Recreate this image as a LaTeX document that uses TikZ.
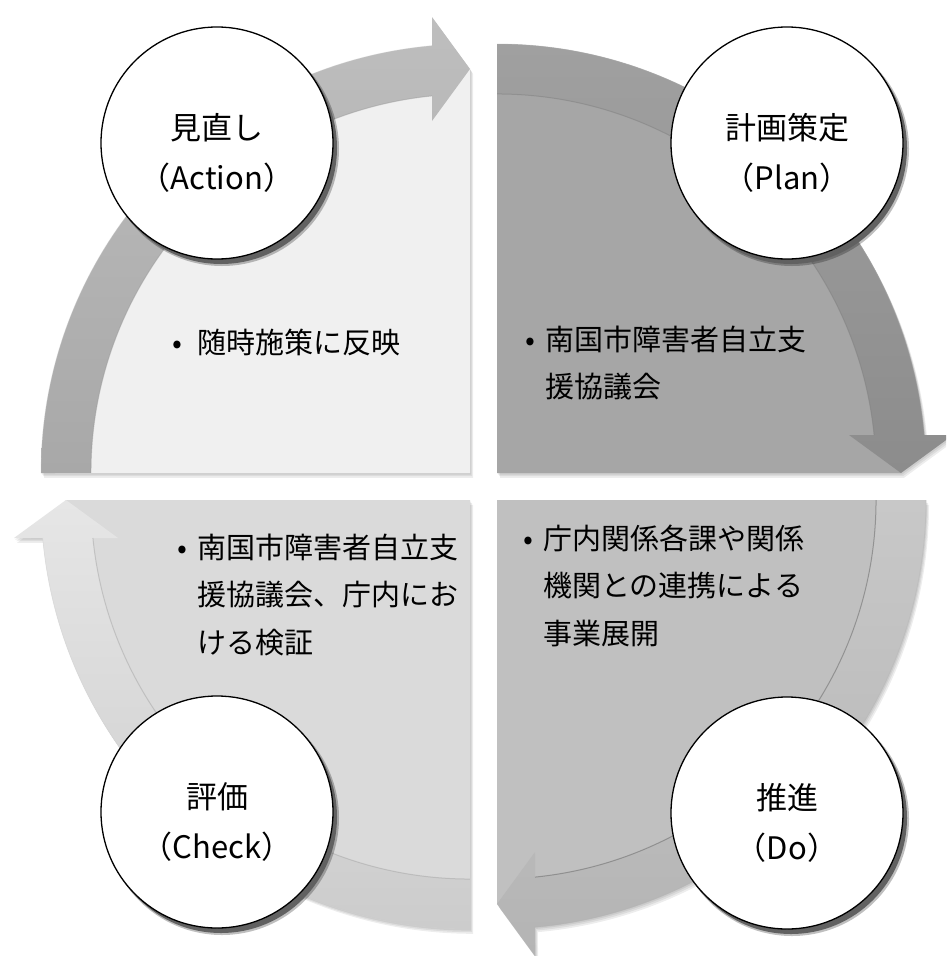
\documentclass[tikz,border=0pt]{standalone}
\usepackage{fontspec}
\setmainfont{Noto Sans CJK JP}
\usetikzlibrary{calc}
\definecolor{pTL}{HTML}{F0F0F0}
\definecolor{pTR}{HTML}{A6A6A6}
\definecolor{pBR}{HTML}{C0C0C0}
\definecolor{pBL}{HTML}{DADADA}
\definecolor{tTL}{HTML}{A8A8A8}
\definecolor{hTL}{HTML}{BEBEBE}
\definecolor{tTR}{HTML}{A0A0A0}
\definecolor{hTR}{HTML}{8C8C8C}
\definecolor{tBR}{HTML}{C8C8C8}
\definecolor{hBR}{HTML}{B4B4B4}
\definecolor{tBL}{HTML}{CCCCCC}
\definecolor{hBL}{HTML}{E6E6E6}
\newcommand\bul[1]{\llap{\makebox[0pt]{•}\hspace*{#1}}}
\tikzset{
  panelshape/.style={insert path={(0,0) -- (-429,0) arc[start angle=180,end angle=95.08,radius=429] -- (0,404) -- cycle}},
  bandshape/.style={insert path={(-429,0) arc[start angle=180,end angle=95.08,radius=429] -- (-38,456) -- (0,404) -- (-38,352) -- (-38,377.1) arc[start angle=95.75,end angle=180,radius=379] -- cycle}},
  pdca/.style={circle,draw=black,line width=1.3pt,fill=white,minimum size=232pt,inner sep=0pt},
  ctext/.style={font=\fontsize{31}{50}\selectfont,align=center,inner sep=0pt},
  body/.style={font=\fontsize{29}{47.5}\selectfont,align=left,inner sep=0pt,anchor=base west},
  cshadow/.style={fill=black!62},
}
% #1 cx, #2 cy (pixels down), #3 rotation, #4 panel colour,
% #5 top colour, #6 bottom colour (global), #7 inner edge, #8 outer edge
\newcommand\quadrant[8]{%
  \foreach \s in {1,2,3}{%
    \begin{scope}[shift={(#1+\s,-#2-1.6*\s)},rotate=#3]
      \fill[black,opacity=.07,panelshape,bandshape];
    \end{scope}}
  \begin{scope}[shift={(#1,-#2)},rotate=#3]
    \fill[#4,panelshape];
    \shade[top color=#5,bottom color=#6,bandshape];
    \draw[#7,line width=1pt] (-38,377.1) arc[start angle=95.75,end angle=180,radius=379];
    \draw[#8,line width=0.8pt] (-429,0) arc[start angle=180,end angle=95.08,radius=429];
  \end{scope}}
\begin{document}
\begin{tikzpicture}[x=1pt,y=1pt]
\useasboundingbox (0,0) rectangle (946,-956);
\clip (0,0) rectangle (946,-956);
\fill[white] (0,0) rectangle (946,-956);
% quadrants
\quadrant{470}{473}{0}{pTL}{hTL}{tTL}{black!40,opacity=.45}{black!20,opacity=.3}
\quadrant{497}{473}{-90}{pTR}{tTR}{hTR}{black!50,opacity=.5}{black!30,opacity=.3}
\quadrant{497}{500}{-180}{pBR}{tBR}{hBR}{black!55,opacity=.6}{black!30,opacity=.3}
\quadrant{470}{500}{90}{pBL}{hBL}{tBL}{black!35,opacity=.5}{black!20,opacity=.3}
% texts in quadrants (base anchor = last line)
\node[body] (txTL) at (197,-353) {\bul{20pt}随時施策に反映};
\node[body] (txTR) at (545,-397.5) {\bul{15pt}南国市障害者自立支\\援協議会};
\node[body] (txBL) at (197,-653) {\bul{15pt}南国市障害者自立支\\援協議会、庁内にお\\ける検証};
\node[body] (txBR) at (543,-644) {\bul{15pt}庁内関係各課や関係\\機関との連携による\\事業展開};
% circles
\coordinate (cA) at (217,-143);
\coordinate (cP) at (787,-143);
\coordinate (cC) at (217,-812);
\coordinate (cD) at (787,-813);
\foreach \c in {cA,cP,cC,cD}{
  \fill[black,opacity=.25] ([shift={(5,-6)}]\c) circle[radius=117];
  \fill[cshadow] ([shift={(4,-5)}]\c) circle[radius=116];
}
\node[pdca] (act) at (cA) {};
\node[pdca] (plan) at (cP) {};
\node[pdca] (chk) at (cC) {};
\node[pdca] (do) at (cD) {};
\node[ctext] (lact) at ([yshift=-10]act.center) {見直し\\（Action）};
\node[ctext] (lplan) at ([yshift=-10]plan.center) {計画策定\\（Plan）};
\node[ctext] (lchk) at ([yshift=-10]chk.center) {評価\\（Check）};
\node[ctext] (ldo) at ([yshift=-10]do.center) {推進\\（Do）};
\end{tikzpicture}
\end{document}
